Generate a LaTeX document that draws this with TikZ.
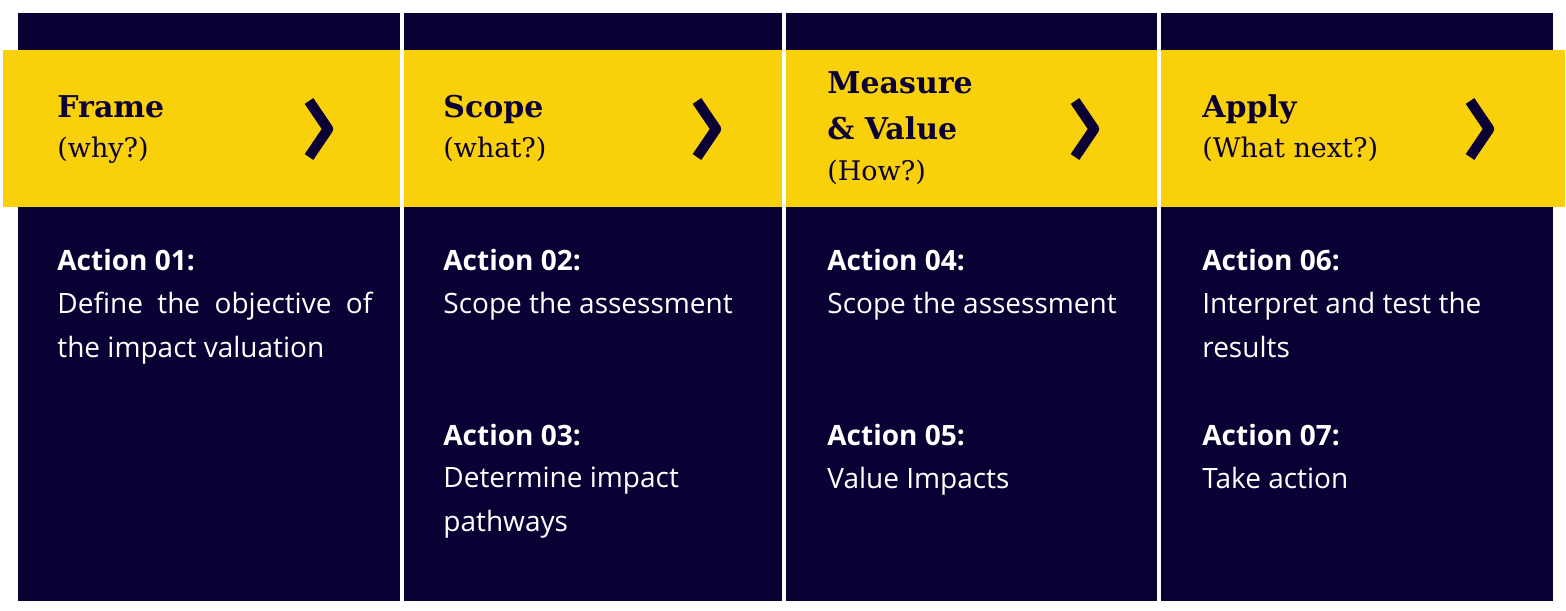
\documentclass[tikz,border=0pt]{standalone}
\usepackage{fontspec}
\setmainfont{Open Sans}
\newfontfamily\slabfont{DejaVu Serif}
\usetikzlibrary{positioning}
\definecolor{navy}{RGB}{11,0,51}
\definecolor{gold}{RGB}{248,209,10}

\tikzset{
    phase/.style={anchor=base west, inner sep=0pt, text=navy, font=\slabfont\bfseries\fontsize{15}{20}\selectfont},
    phasesub/.style={anchor=base west, inner sep=0pt, text=navy, font=\slabfont\fontsize{13.5}{18}\selectfont},
    actionhead/.style={anchor=base west, inner sep=0pt, text=white, font=\bfseries\fontsize{14}{21.75}\selectfont},
    actiontext/.style={anchor=base west, inner sep=0pt, text=white, align=left, font=\fontsize{14}{21.75}\selectfont},
    chevron/.style={draw=navy, line width=5.2pt, line join=round}
}

\begin{document}
\begin{tikzpicture}[x=0.5pt, y=-0.5pt]
    \useasboundingbox (0,0) rectangle (1566,610);

    % Columns
    \fill[navy] (18,13) rectangle (400,601);
    \fill[navy] (404,13) rectangle (782,601);
    \fill[navy] (786,13) rectangle (1157,601);
    \fill[navy] (1161,13) rectangle (1553,601);

    % Yellow band with the separators on top
    \fill[gold] (3,50) rectangle (1565,207);
    \fill[white] (400,13) rectangle (404,601);
    \fill[white] (782,13) rectangle (786,601);
    \fill[white] (1157,13) rectangle (1161,601);

    % Phase titles
    \node[phase] (frame) at (57,118) {Frame};
    \node[phasesub] (why) at (57,157) {(why?)};
    \node[phase] (scope) at (443,118) {Scope};
    \node[phasesub] (what) at (443,157) {(what?)};
    \node[phase] (measure) at (827,94) {Measure};
    \node[phase] (value) at (827,139) {\& Value};
    \node[phasesub] (how) at (827,180) {(How?)};
    \node[phase] (apply) at (1202,118) {Apply};
    \node[phasesub] (next) at (1202,157) {(What next?)};

    % Chevrons
    \draw[chevron] (309,101) -- (328,129) -- (309,157);
    \draw[chevron] (697,101) -- (716,129) -- (697,157);
    \draw[chevron] (1075,101) -- (1094,129) -- (1075,157);
    \draw[chevron] (1470,101) -- (1489,129) -- (1470,157);

    % Actions (multi-line texts sit on their last baseline)
    \node[actionhead] (a01) at (57,270) {Action 01:};
    \node[actiontext] (t01) at (57,357) {\makebox[157.5pt][s]{Define the objective of}\\the impact valuation};
    \node[actionhead] (a02) at (443,270) {Action 02:};
    \node[actiontext] (t02) at (443,313) {Scope the assessment};
    \node[actionhead] (a03) at (443,445) {Action 03:};
    \node[actiontext] (t03) at (443,531) {Determine impact\\pathways};
    \node[actionhead] (a04) at (827,270) {Action 04:};
    \node[actiontext] (t04) at (827,313) {Scope the assessment};
    \node[actionhead] (a05) at (827,445) {Action 05:};
    \node[actiontext] (t05) at (827,488) {Value Impacts};
    \node[actionhead] (a06) at (1202,270) {Action 06:};
    \node[actiontext] (t06) at (1202,357) {Interpret and test the\\results};
    \node[actionhead] (a07) at (1202,445) {Action 07:};
    \node[actiontext] (t07) at (1202,488) {Take action};
\end{tikzpicture}
\end{document}
